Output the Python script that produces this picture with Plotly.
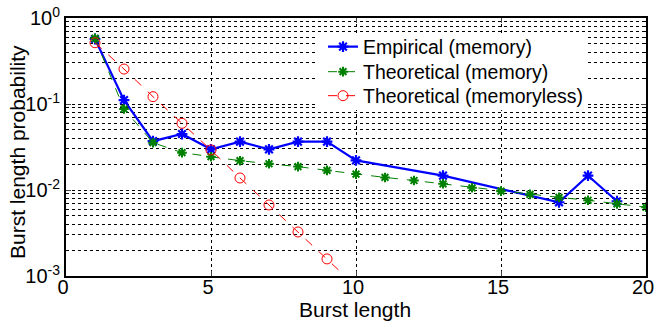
import plotly.graph_objects as go

# Data
emp_x = [1, 2, 3, 4, 5, 6, 7, 8, 9, 10, 13, 17, 18, 19]
emp_y = [0.57, 0.111, 0.037, 0.0448, 0.0297, 0.0365, 0.0297, 0.0365, 0.0365,
         0.0221, 0.0147, 0.0072, 0.0147, 0.0074]

thm_x = list(range(1, 21))
thm_y = [0.58, 0.0875, 0.0355, 0.0272, 0.0244, 0.0219, 0.0202, 0.0187, 0.0169,
         0.0153, 0.0140, 0.0129, 0.0118, 0.0106, 0.0097, 0.0089, 0.0082, 0.0076,
         0.0069, 0.0063]

thl_x = [1, 2, 3, 4, 5, 6, 7, 8, 9, 10]
thl_y = [0.516, 0.255, 0.1217, 0.0596, 0.0292, 0.0138, 0.0067, 0.00325, 0.00158,
         0.00076]

x_ticks = [0, 5, 10, 15, 20]
y_ticks = [1e-3, 1e-2, 1e-1, 1]
y_ticktext = ["10<sup>-3</sup>", "10<sup>-2</sup>", "10<sup>-1</sup>", "10<sup>0</sup>"]

FONT = "Liberation Sans, Arial, sans-serif"

fig = go.Figure()
fig.add_trace(go.Scatter(
    x=emp_x, y=emp_y, mode="lines+markers", name="Empirical (memory)",
    line=dict(color="#0000FF", width=2.2),
    marker=dict(symbol="asterisk-open", size=9, line=dict(color="#0000FF", width=2.2)),
    legend="legend",
))
fig.add_trace(go.Scatter(
    x=thm_x, y=thm_y, mode="lines+markers", name="Theoretical (memory)",
    line=dict(color="#008000", width=1, dash="dash"),
    marker=dict(symbol="asterisk-open", size=8, line=dict(color="#008000", width=2)),
    legend="legend2",
))
fig.add_trace(go.Scatter(
    x=thl_x, y=thl_y, mode="lines+markers", name="Theoretical (memoryless)",
    line=dict(color="#FF0000", width=1, dash="dash"),
    marker=dict(symbol="circle-open", size=10, line=dict(color="#FF0000", width=1)),
    legend="legend3",
))

minor_vals = [k * 10 ** e for e in (-3, -2, -1) for k in range(2, 10)]

leg_common = dict(xanchor="left", yanchor="middle", bgcolor="rgba(0,0,0,0)",
                  borderwidth=0, font=dict(size=19.5), itemwidth=30)
LX = (323 - 66) / 580

fig.update_layout(
    width=654, height=325,
    margin=dict(l=66, r=8, t=18, b=49, autoexpand=False),
    paper_bgcolor="white", plot_bgcolor="white",
    font=dict(family=FONT, size=19, color="black"),
    showlegend=True,
    legend=dict(x=LX, y=0.8876, **leg_common),
    legend2=dict(x=LX, y=0.7907, **leg_common),
    legend3=dict(x=LX, y=0.6977, **leg_common),
    shapes=[dict(type="rect", xref="paper", yref="paper",
                 x0=(315 - 66) / 580, x1=(587 - 66) / 580,
                 y0=1 - (110 - 18) / 258, y1=1 - (34 - 18) / 258,
                 fillcolor="white", line=dict(width=0), layer="above")],
    annotations=[
        dict(text="Burst length", xref="paper", yref="paper",
             x=(355 - 66) / 580, y=-(309.5 - 276) / 258,
             xanchor="center", yanchor="middle", showarrow=False,
             font=dict(size=21)),
        dict(text="Burst length probability", xref="paper", yref="paper",
             x=(17 - 66) / 580, y=1 - (152 - 18) / 258, textangle=-90,
             xanchor="center", yanchor="middle", showarrow=False,
             font=dict(size=21)),
    ],
)
fig.update_xaxes(
    range=[0, 20], tickvals=x_ticks, ticks="inside", ticklen=5,
    showline=True, linecolor="black", linewidth=2, mirror="ticks",
    showgrid=True, gridcolor="black", griddash="dot", gridwidth=1,
    zeroline=False, tickfont=dict(size=20), ticklabeloverflow="allow",
    ticklabelstandoff=-8, ticklabelshift=-3, automargin=False,
)
fig.update_yaxes(
    type="log", range=[-3, 0], tickvals=y_ticks, ticktext=y_ticktext,
    ticks="inside", ticklen=5,
    showline=True, linecolor="black", linewidth=2, mirror="ticks",
    showgrid=True, gridcolor="black", griddash="dot", gridwidth=1,
    zeroline=False, tickfont=dict(size=20), ticklabeloverflow="allow",
    automargin=False,
    minor=dict(tickvals=minor_vals, ticks="inside", ticklen=3, tickcolor="black",
               showgrid=True, gridcolor="black", griddash="dot", gridwidth=1),
)

fig.write_html("out.html")
